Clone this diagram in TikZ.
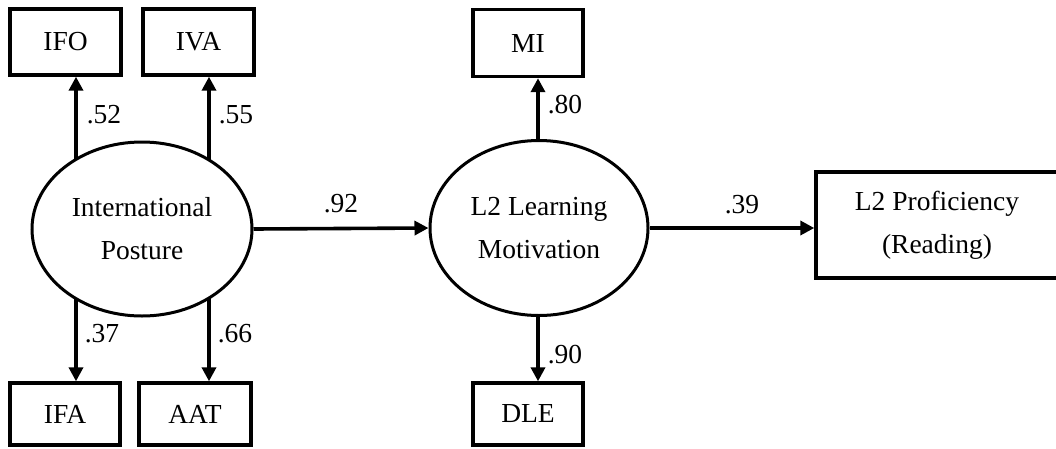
\documentclass[tikz,border=0pt]{standalone}
\usepackage{fontspec}
\setmainfont{Liberation Serif}
\usetikzlibrary{arrows.meta,backgrounds,shapes.geometric}
\begin{document}
\begin{tikzpicture}[x=1pt,y=-1pt,
  txt/.style={font=\fontsize{27.5}{43}\selectfont},
  obs/.style={draw,line width=3.4pt,inner sep=0pt,txt},
  lat/.style={draw,ellipse,fill=white,line width=3pt,inner sep=0pt,align=center,txt},
  arr/.style={line width=3.6pt,-{Triangle[length=14pt,width=14pt]}},
  lab/.style={txt,inner sep=0pt}]
\useasboundingbox (0,0) rectangle (1056,448);
% observed boxes
\node[obs,minimum width=111pt,minimum height=66pt] (IFO) at (65.5,42) {IFO};
\node[obs,minimum width=111pt,minimum height=66pt] (IVA) at (198.5,42) {IVA};
\node[obs,minimum width=110pt,minimum height=62pt] (IFA) at (65,414) {IFA};
\node[obs,minimum width=112pt,minimum height=62pt] (AAT) at (195,414) {AAT};
\node[obs,minimum width=110pt,minimum height=67pt] (MI) at (528,43) {MI};
\node[obs,minimum width=110pt,minimum height=62pt] (DLE) at (528,414) {DLE};
\node[obs,minimum width=242pt,minimum height=106pt,align=center] (PRO) at (937,225) {L2 Proficiency\\(Reading)};
% latent
\node[lat,minimum width=220pt,minimum height=174pt] (IP) at (142,229) {International\\Posture};
\node[lat,minimum width=218pt,minimum height=175pt] (LM) at (539,228) {L2 Learning\\Motivation};
% anchor points inside ellipses
\coordinate (p1) at (76,229);
\coordinate (p2) at (209,229);
\coordinate (m1) at (538,228);
\begin{scope}[on background layer]
\draw[arr] (p1) -- (p1 |- IFO.south);
\draw[arr] (p2) -- (p2 |- IVA.south);
\draw[arr] (p1) -- (p1 |- IFA.north);
\draw[arr] (p2) -- (p2 |- AAT.north);
\draw[arr] (m1) -- (m1 |- MI.south);
\draw[arr] (m1) -- (m1 |- DLE.north);
\end{scope}
\draw[arr] (IP.east) -- (LM.west);
\draw[arr] (LM.east) -- (LM.east -| PRO.west);
% labels
\node[lab] (l52) at (104,115) {.52};
\node[lab] (l55) at (236,115) {.55};
\node[lab] (l37) at (102,334) {.37};
\node[lab] (l66) at (235,334) {.66};
\node[lab] (l80) at (565,105) {.80};
\node[lab] (l90) at (565,355) {.90};
\node[lab] (l92) at (341,204) {.92};
\node[lab] (l39) at (742,205) {.39};
\end{tikzpicture}
\end{document}
